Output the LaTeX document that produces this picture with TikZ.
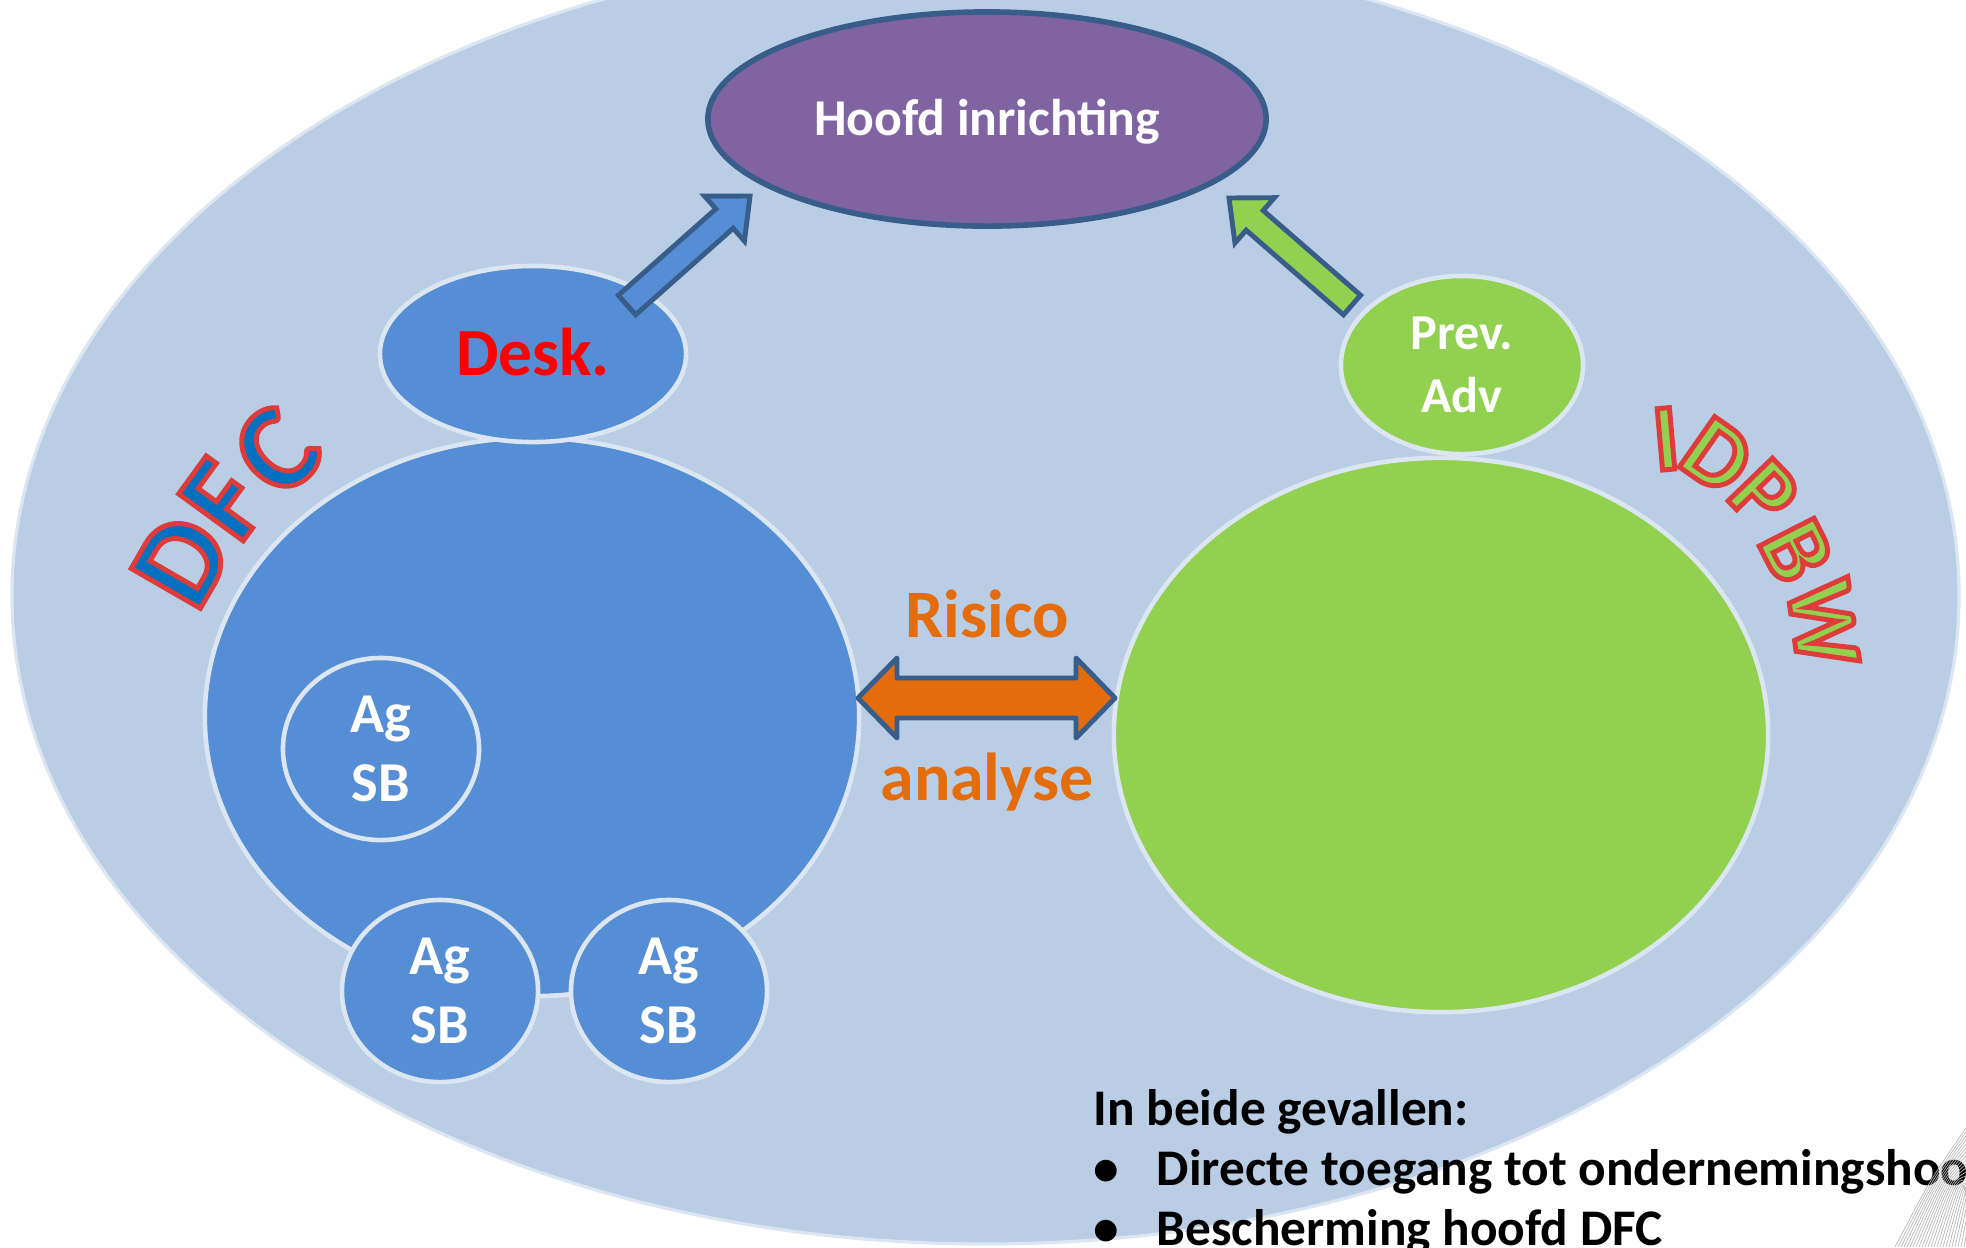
\documentclass[tikz,border=0pt]{standalone}
\usepackage{fontspec}
\setmainfont{Carlito}
\usetikzlibrary{shapes.geometric,calc}
\definecolor{bgblue}{HTML}{B9CDE5}
\definecolor{lightline}{HTML}{DCE6F2}
\definecolor{midblue}{HTML}{558ED5}
\definecolor{lgreen}{HTML}{92D050}
\definecolor{purp}{HTML}{8064A2}
\definecolor{darkline}{HTML}{385D8A}
\definecolor{orng}{HTML}{E46C0A}
\definecolor{redtxt}{HTML}{FF0000}
\definecolor{dfcblue}{HTML}{0070C0}
\definecolor{outred}{HTML}{DE3B3B}
\newcommand\dfcfont{\bfseries\fontsize{35}{40}\selectfont}
\newcommand\idpfont{\bfseries\fontsize{27}{32}\selectfont}
% outlined glyph: fill in the current text colour, red stroke (PDF text render mode 2)
\newcommand\outl[1]{\special{pdf:literal direct 2 Tr 1.4 w 0.871 0.231 0.231 RG}#1\special{pdf:literal direct 0 Tr}}
% name, x, y, rotation, letter, fill colour, font, cap height
\newcommand\oletter[8]{%
  \node[rotate=#4, text=#6, font=#7, inner sep=0pt, text height=#8, text depth=0pt] (#1) at (#2,#3) {\outl{#5}};
}
\tikzset{
  blob/.style={ellipse, inner sep=0pt, draw=lightline, line width=1.3pt},
  agsb/.style={blob, fill=midblue, minimum width=1.96cm, minimum height=1.82cm, text=white,
    font=\bfseries\fontsize{16}{19.6}\selectfont, align=center},
  blockarrow/.style={draw=darkline, line width=1.4pt, line join=miter},
  bottomtxt/.style={anchor=base west, inner sep=0pt, font=\bfseries\fontsize{14.6}{17}\selectfont, text=black},
  midtxt/.style={anchor=base, inner sep=0pt, text=orng, font=\bfseries\fontsize{19.3}{23}\selectfont},
}
\begin{document}
\begin{tikzpicture}[x=0.01cm, y=-0.01cm]
\useasboundingbox (0,0) rectangle (1966,1247);
\fill[white] (0,0) rectangle (1966,1247);
\clip (0,0) rectangle (1966,1247);

% outer organisation ellipse
\node[blob, fill=bgblue, line width=0.9pt, minimum width=19.46cm, minimum height=12.96cm] (org) at (985.5,595.6) {};

% big circles
\node[blob, fill=midblue, minimum width=6.54cm, minimum height=5.58cm] (dfc) at (532,717) {};
\node[blob, fill=lgreen, minimum width=6.54cm, minimum height=5.54cm] (idp) at (1441,735) {};

% small ellipses
\node[blob, fill=midblue, minimum width=3.06cm, minimum height=1.76cm, text=redtxt,
  font=\bfseries\fontsize{19.2}{23}\selectfont, text height=12.4pt, text depth=0pt] (desk) at (533,354) {Desk.};
\node[blob, fill=lgreen, minimum width=2.42cm, minimum height=1.78cm, text=white,
  font=\bfseries\fontsize{14.3}{17.8}\selectfont, align=center] (prev) at (1462,365) {Prev.\\Adv};
\node[ellipse, inner sep=0pt, fill=purp, draw=darkline, line width=1.6pt, minimum width=5.58cm,
  minimum height=2.14cm, text=white, font=\bfseries\fontsize{14.7}{18}\selectfont,
  text height=9.5pt, text depth=0pt] (hoofd) at (987,119) {Hoofd inrichting};

% Ag SB circles
\node[agsb] (ag1) at (381,749) {Ag\\SB};
\node[agsb] (ag2) at (440,991) {Ag\\SB};
\node[agsb] (ag3) at (669,991) {Ag\\SB};

% blue block arrow Desk -> Hoofd
\coordinate (bT) at (627,305);
\coordinate (bP) at (750,196);
\coordinate (bH) at ($(bP)!0.34cm!(bT)$);
\draw[blockarrow, fill=midblue]
  ($(bT)!0.13cm!90:(bP)$) -- ($(bH)!0.13cm!90:(bP)$) -- ($(bH)!0.30cm!90:(bP)$) -- (bP)
  -- ($(bH)!0.30cm!-90:(bP)$) -- ($(bH)!0.13cm!-90:(bP)$) -- ($(bT)!0.13cm!-90:(bP)$) -- cycle;

% green block arrow Prev -> Hoofd
\coordinate (gT) at (1352,305);
\coordinate (gP) at (1229,198);
\coordinate (gH) at ($(gP)!0.34cm!(gT)$);
\draw[blockarrow, fill=lgreen]
  ($(gT)!0.13cm!90:(gP)$) -- ($(gH)!0.13cm!90:(gP)$) -- ($(gH)!0.30cm!90:(gP)$) -- (gP)
  -- ($(gH)!0.30cm!-90:(gP)$) -- ($(gH)!0.13cm!-90:(gP)$) -- ($(gT)!0.13cm!-90:(gP)$) -- cycle;

% orange double arrow
\coordinate (oL) at (858,698);
\coordinate (oR) at (1115,698);
\coordinate (oHL) at ($(oL)!0.39cm!(oR)$);
\coordinate (oHR) at ($(oR)!0.39cm!(oL)$);
\draw[blockarrow, fill=orng, line join=round]
  (oL) -- ($(oHL)!0.40cm!90:(oR)$) -- ($(oHL)!0.20cm!90:(oR)$) -- ($(oHR)!0.20cm!-90:(oL)$)
  -- ($(oHR)!0.40cm!-90:(oL)$) -- (oR) -- ($(oHR)!0.40cm!90:(oL)$) -- ($(oHR)!0.20cm!90:(oL)$)
  -- ($(oHL)!0.20cm!-90:(oR)$) -- ($(oHL)!0.40cm!-90:(oR)$) -- cycle;

\node[midtxt] (ris) at (987,637) {Risico};
\node[midtxt] (ana) at (987,800) {analyse};

% DFC lettering
\oletter{lD}{182}{561}{60}{D}{dfcblue}{\dfcfont}{22.5pt}
\oletter{lF}{224}{500}{54}{F}{dfcblue}{\dfcfont}{22.5pt}
\oletter{lC}{277}{451}{45}{C}{dfcblue}{\dfcfont}{22.5pt}

% IDPBW lettering
\oletter{lI}{1666}{439}{5}{I}{lgreen}{\idpfont}{17.4pt}
\oletter{lD2}{1717}{456}{-35}{D}{lgreen}{\idpfont}{17.4pt}
\oletter{lP}{1764}{494}{-46}{P}{lgreen}{\idpfont}{17.4pt}
\oletter{lB}{1796}{551}{-63}{B}{lgreen}{\idpfont}{17.4pt}
\oletter{lW}{1823}{623}{-82}{W}{lgreen}{\idpfont}{17.4pt}

% bottom text
\node[bottomtxt] (inb) at (1093,1125) {In beide gevallen:};
\node[bottomtxt] (bu1) at (1093,1185) {\textbullet};
\node[bottomtxt] (tx1) at (1156,1185) {Directe toegang tot ondernemingshoofd};
\node[bottomtxt] (bu2) at (1093,1245) {\textbullet};
\node[bottomtxt] (tx2) at (1156,1245) {Bescherming hoofd DFC};

% decorative grey line fan, bottom right
\foreach \i in {0,...,24}{
  \draw[gray!55, line width=0.2pt] (1895+3*\i,1247) .. controls (1930+2*\i,1180) .. (1966,1128+4*\i);
}
\end{tikzpicture}
\end{document}
